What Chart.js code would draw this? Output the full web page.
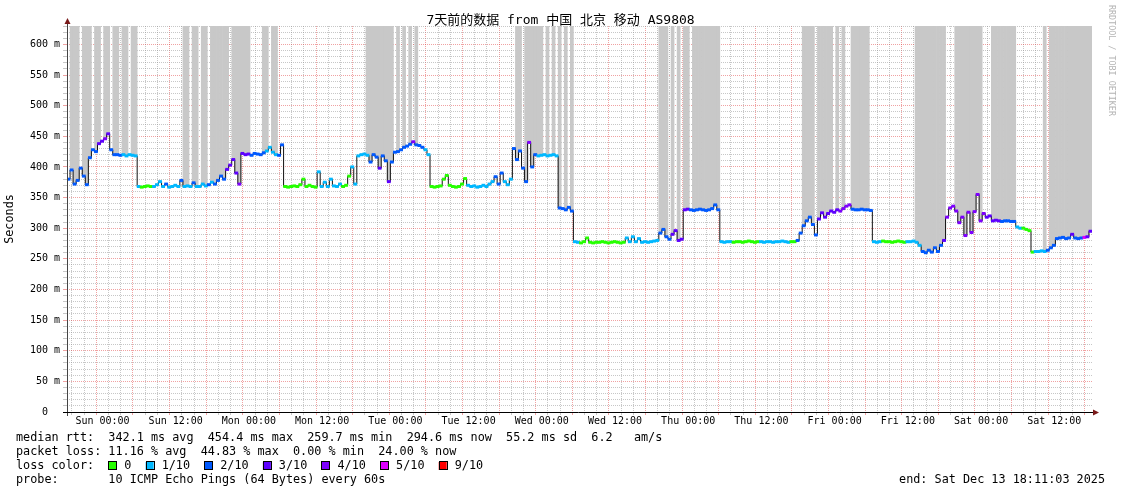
<!DOCTYPE html>
<html><head><meta charset="utf-8">
<script src="https://cdn.jsdelivr.net/npm/chart.js@4.4.1/dist/chart.umd.min.js"></script>
<style>html,body{margin:0;padding:0;background:#fff;}#wrap{width:1121px;height:494px;}</style>
</head><body><div id="wrap"><canvas id="c" width="1121" height="494"></canvas></div>
<script>
const chartTitle = '7天前的数据 from 中国 北京 移动 AS9808';
const yAxisTitle = 'Seconds';
const watermark = 'RRDTOOL / TOBI OETIKER';
const dayNames = ['Sun','Mon','Tue','Wed','Thu','Fri','Sat'];
const startHour = -5.816;   // hours relative to Sun 00:00
const endHour = 162.184;
const slotHours = 0.5;
const yMax = 630;

// median rtt (ms), one value per 30-minute slot
const median = [
 380,395,372,378,398,385,371,415,428,425,
 438,442,446,454,428,420,420,419,420,418,
 420,419,418,368,367,368,369,368,368,371,
 376,368,372,367,368,370,368,378,368,369,
 368,374,368,368,372,369,371,375,372,378,
 385,380,396,403,412,390,372,422,420,421,
 419,422,421,420,423,426,432,424,420,419,
 436,368,367,368,369,368,371,380,368,370,
 368,367,392,368,375,368,380,369,368,372,
 368,370,385,400,372,418,420,421,419,408,
 420,416,398,418,410,376,408,424,425,428,
 432,434,437,441,436,435,432,428,420,368,
 367,368,369,380,386,370,368,367,368,372,
 381,370,368,369,367,368,370,368,372,376,
 384,372,390,376,371,380,430,412,426,398,
 376,440,400,420,418,419,420,418,419,420,
 418,333,332,330,334,328,278,277,276,278,
 284,277,276,277,277,278,277,276,277,278,
 277,276,277,284,278,286,278,283,277,278,
 277,278,279,280,292,298,286,282,290,296,
 280,282,330,331,330,329,330,331,330,329,
 330,332,338,330,278,277,278,278,277,278,
 278,277,278,279,278,277,278,278,277,278,
 278,277,278,278,279,278,277,278,278,280,
 292,304,312,318,306,289,315,325,318,324,
 328,326,330,328,332,336,338,331,330,330,
 331,330,330,329,278,277,278,279,278,278,
 277,278,279,278,277,278,278,279,277,272,
 262,260,264,261,268,262,272,280,318,333,
 336,328,309,318,288,326,293,327,355,312,
 324,318,320,312,313,312,311,312,312,311,
 311,302,300,300,298,296,261,262,262,263,
 262,264,268,272,283,284,285,283,284,290,
 284,283,284,285,286,295
];
// loss level index per slot (0 -> 0, 1 -> 1/10, ... 6 -> 9/10)
const lossLevel = [
 2,2,2,2,2,2,2,2,2,2, 3,3,4,3,2,2,2,2,1,1, 1,1,1,1,0,0,0,0,1,1,
 1,1,2,1,1,1,1,2,1,1, 1,2,1,1,1,1,2,1,2,2, 2,2,3,3,3,3,4,3,3,3,
 2,2,2,2,2,1,1,1,1,2, 2,0,0,0,0,0,0,0,0,0, 0,0,1,1,1,1,1,1,1,1,
 0,0,0,1,1,1,1,1,1,2, 2,2,3,2,2,3,2,2,2,2, 2,2,2,4,2,2,2,1,1,0,
 0,0,0,0,0,0,0,0,0,0, 0,1,1,1,1,1,1,1,1,1, 2,2,2,1,1,1,2,2,2,2,
 2,4,2,2,1,1,1,1,1,1, 1,2,2,2,2,2,1,1,0,0, 0,0,0,0,0,0,0,0,0,0,
 0,0,0,1,1,1,1,1,1,1, 1,1,1,1,2,2,2,2,3,3, 3,3,3,3,2,2,2,2,2,2,
 2,2,2,2,1,1,1,1,0,0, 0,0,0,0,0,0,0,1,1,1, 1,1,1,1,1,1,1,0,0,2,
 2,2,2,2,2,2,3,3,3,3, 3,3,3,4,4,4,4,2,2,2, 2,2,2,2,1,1,1,0,0,0,
 0,0,0,0,0,1,1,1,1,1, 2,2,2,2,2,2,2,3,4,4, 4,4,4,4,4,4,4,4,4,4,
 4,3,3,3,3,3,2,2,2,2, 2,1,1,0,0,0,0,1,1,1, 1,2,2,2,2,2,2,2,2,3,
 2,2,2,5,3,3
];
const lossColors = ['#26ff00','#00b8ff','#0059ff','#5e00ff','#7e00ff','#dd00ff','#ff0000'];
const lossLabels = ['0','1/10','2/10','3/10','4/10','5/10','9/10'];
// slots where some pings went off the top of the graph (smoke to top)
const offScaleSlots = [
 1,2,3,5,6,7,9,10,12,13,15,16,18,19,21,22,
 38,39,41,42,44,45,47,48,49,50,51,52,54,55,56,57,58,59,64,65,67,68,
 98,99,100,101,102,103,104,105,106,108,110,112,114,
 147,148,150,151,152,153,154,155,157,159,161,163,165,
 194,195,196,198,200,202,203,205,206,207,208,209,210,211,212,213,
 241,242,243,244,246,247,248,249,250,252,254,257,258,259,260,261,262,
 278,279,280,281,282,283,284,285,286,287,
 291,292,293,294,295,296,297,298,299,
 303,304,305,306,307,308,309,310,
 320,322,323,324,325,326,327,328,329,330,331,332,333,334,335
];
const legendRtt = 'median rtt:  342.1 ms avg  454.4 ms max  259.7 ms min  294.6 ms now  55.2 ms sd  6.2   am/s';
const legendLoss = 'packet loss: 11.16 % avg  44.83 % max  0.00 % min  24.00 % now';
const legendLossColor = 'loss color:';
const legendProbe = 'probe:       10 ICMP Echo Pings (64 Bytes) every 60s';
const legendEnd = 'end: Sat Dec 13 18:11:03 2025';

const MONO = '"DejaVu Sans Mono", "Noto Sans CJK SC", monospace';
const MGRID = 'rgba(222,48,48,0.45)';
const GRID = 'rgba(143,143,143,0.5)';

const xs = median.map((_, i) => startHour + (i + 0.5) * slotHours);
const offSet = new Set(offScaleSlots);
const pts = xs.map((x, i) => ({x, y: median[i]}));

const deco = {
  id: 'deco',
  afterDraw(chart) {
    const {ctx, chartArea: a} = chart;
    ctx.save();
    // axes
    ctx.lineWidth = 1;
    ctx.strokeStyle = '#444';
    ctx.beginPath(); ctx.moveTo(a.left + 0.5, a.top - 3); ctx.lineTo(a.left + 0.5, a.bottom + 4); ctx.stroke();
    ctx.strokeStyle = '#000';
    ctx.beginPath(); ctx.moveTo(a.left - 4, a.bottom + 0.5); ctx.lineTo(a.right + 2, a.bottom + 0.5); ctx.stroke();
    // arrow heads
    ctx.fillStyle = '#7a1a1a';
    ctx.beginPath(); ctx.moveTo(a.left + 0.5, a.top - 8); ctx.lineTo(a.left - 2.5, a.top - 2); ctx.lineTo(a.left + 3.5, a.top - 2); ctx.closePath(); ctx.fill();
    ctx.beginPath(); ctx.moveTo(a.right + 7, a.bottom + 0.5); ctx.lineTo(a.right + 1, a.bottom - 2.5); ctx.lineTo(a.right + 1, a.bottom + 3.5); ctx.closePath(); ctx.fill();
    // title
    ctx.fillStyle = '#000';
    ctx.font = '13px ' + MONO;
    ctx.textAlign = 'center'; ctx.textBaseline = 'middle';
    ctx.fillText(chartTitle, chart.width / 2, 21);
    // y title
    ctx.save();
    ctx.font = '11.8px ' + MONO;
    ctx.translate(10, (a.top + a.bottom) / 2);
    ctx.rotate(-Math.PI / 2);
    ctx.fillText(yAxisTitle, 0, 0);
    ctx.restore();
    // watermark
    ctx.save();
    ctx.font = '8.4px ' + MONO;
    ctx.fillStyle = '#b4b4b4';
    ctx.textAlign = 'left';
    ctx.translate(1111, 5);
    ctx.rotate(Math.PI / 2);
    ctx.fillText(watermark, 0, 0);
    ctx.restore();
    // legend
    ctx.font = '11.8px ' + MONO;
    ctx.textAlign = 'left'; ctx.textBaseline = 'middle';
    ctx.fillStyle = '#000';
    const lx = 16;
    ctx.fillText(legendRtt, lx, 438);
    ctx.fillText(legendLoss, lx, 452);
    ctx.fillText(legendLossColor, lx, 466);
    ctx.fillText(legendProbe, lx, 480);
    const cw = ctx.measureText('0').width;
    let bx = lx + 13 * cw;
    lossLabels.forEach((lab, k) => {
      ctx.fillStyle = lossColors[k];
      ctx.fillRect(bx, 462, 8, 8);
      ctx.strokeStyle = '#000'; ctx.lineWidth = 1;
      ctx.strokeRect(Math.round(bx) + 0.5, 461.5, 8, 8);
      ctx.fillStyle = '#000';
      const tx = bx + 16;
      ctx.fillText(lab, tx, 466);
      bx = tx + (lab.length + 2) * cw;
    });
    ctx.textAlign = 'right';
    ctx.fillText(legendEnd, 1105, 480);
    ctx.restore();
  }
};

new Chart(document.getElementById('c'), {
  data: {
    datasets: [
      {
        type: 'line', label: 'loss color', data: pts, showLine: false,
        pointStyle: 'line', pointRadius: 1.9, pointBorderWidth: 3,
        pointBorderColor: c => (c.dataIndex == null ? '#000' : lossColors[lossLevel[c.dataIndex]]),
        pointBackgroundColor: 'rgba(0,0,0,0)', order: 1
      },
      {
        type: 'line', label: 'median', data: pts, borderColor: '#111', borderWidth: 1,
        pointRadius: 0, stepped: 'middle', fill: false, order: 2
      },
      {
        type: 'bar', label: 'off scale', order: 3,
        data: xs.map((x, i) => ({x, y: offSet.has(i) ? [median[i], yMax] : null})),
        backgroundColor: '#c8c8c8', borderWidth: 0, barPercentage: 1, categoryPercentage: 1
      }
    ]
  },
  options: {
    responsive: false, maintainAspectRatio: false, animation: false, devicePixelRatio: 1,
    events: [],
    layout: {padding: {left: 0, right: 29, top: 26, bottom: 0}},
    plugins: {legend: {display: false}, tooltip: {enabled: false}, title: {display: false}},
    scales: {
      x: {
        type: 'linear', min: startHour, max: endHour, offset: false,
        afterFit: s => { s.height = 82; },
        afterBuildTicks: s => {
          const t = [];
          for (let h = Math.ceil(startHour / 2) * 2; h <= endHour; h += 2) t.push({value: h});
          s.ticks = t;
        },
        ticks: {
          autoSkip: false, maxRotation: 0, minRotation: 0, padding: 0, color: '#000',
          font: {family: MONO, size: 10},
          callback: v => (v % 12 === 0) ? dayNames[Math.floor(v / 24)] + ' ' + String(v % 24).padStart(2, '0') + ':00' : ''
        },
        grid: {color: c => (c.tick && c.tick.value % 6 === 0) ? MGRID : GRID, lineWidth: 1, tickLength: 3},
        border: {display: false, dash: [1, 1]}
      },
      y: {
        type: 'linear', min: 0, max: yMax,
        afterFit: s => { s.width = 67; },
        ticks: {
          stepSize: 10, autoSkip: false, padding: 3, color: '#000',
          font: {family: MONO, size: 10},
          callback: v => (v % 50 === 0) ? (v === 0 ? '0  ' : v + ' m') : ''
        },
        grid: {color: c => (c.tick && c.tick.value % 50 === 0 && c.tick.value > 0) ? MGRID : GRID, lineWidth: 1, tickLength: 4},
        border: {display: false, dash: [1, 1]}
      }
    }
  },
  plugins: [deco]
});
</script>
</body></html>
